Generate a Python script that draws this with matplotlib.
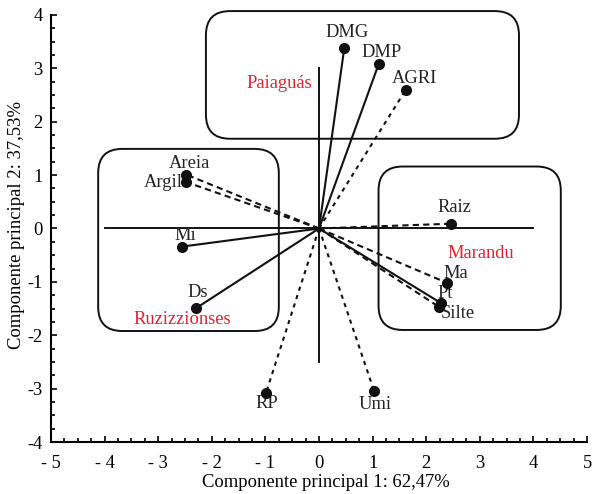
import numpy as np
import matplotlib
matplotlib.use("Agg")
import matplotlib.pyplot as plt
from matplotlib.patches import FancyBboxPatch
from matplotlib.ticker import MultipleLocator

plt.rcParams['font.family'] = ['Liberation Serif', 'DejaVu Serif']

# variable loadings (PC1, PC2)
names = ["DMG", "DMP", "AGRI", "Areia", "Argila", "Raiz", "Ma", "Pt", "Silte", "Mi", "Ds", "RP", "Umi"]
pc1 = [0.47, 1.11, 1.62, -2.48, -2.48, 2.47, 2.39, 2.28, 2.24, -2.56, -2.29, -0.99, 1.03]
pc2 = [3.37, 3.07, 2.60, 1.01, 0.87, 0.09, -1.02, -1.40, -1.47, -0.34, -1.49, -3.08, -3.05]

# cultivar groups
groups = ["Paiaguás", "Ruzizzionses", "Marandu"]
group_x = [-0.74, -2.56, 3.02]
group_y = [2.72, -1.70, -0.47]

xticks = [-5, -4, -3, -2, -1, 0, 1, 2, 3, 4, 5]
xtick_labels = ["- 5", "- 4", "- 3", "- 2", "- 1", "0", "1", "2", "3", "4", "5"]
yticks = [-4, -3, -2, -1, 0, 1, 2, 3, 4]
ytick_labels = ["-4", "-3", "-2", "-1", "0", "1", "2", "3", "4"]

# line style per variable and label offsets (pixels)
dash = (0, (3, 2))
dot = (0, (2, 2.2))
styles = {"DMG": "-", "DMP": "-", "AGRI": dot, "Areia": dash, "Argila": dash,
          "Raiz": dash, "Ma": dash, "Pt": "-", "Silte": dash, "Mi": "-",
          "Ds": "-", "RP": dot, "Umi": dot}
offsets = {"DMG": (3, 16), "DMP": (3, 12), "AGRI": (9, 11), "Areia": (3, 11),
           "Argila": (-19, 0), "Raiz": (3, 16), "Ma": (9, 9), "Pt": (4, 10),
           "Silte": (19, -7), "Mi": (3, 11), "Ds": (1, 16), "RP": (1, -11),
           "Umi": (1, -13)}
# rounded boxes: (x0, y0, x1, y1)
boxes = [(-2.11, 1.68, 3.73, 4.07), (-4.12, -1.92, -0.75, 1.49), (1.11, -1.90, 4.51, 1.16)]

fig = plt.figure(figsize=(5.93, 4.94), dpi=100)
ax = fig.add_axes([0.086, 0.105, 0.904, 0.865])

for x0, y0, x1, y1 in boxes:
    ax.add_patch(FancyBboxPatch((x0, y0), x1 - x0, y1 - y0,
                                boxstyle="round,pad=0,rounding_size=0.45",
                                fill=False, ec="#111111", lw=1.4, clip_on=False))

# central cross
ax.plot([-4, 4], [0, 0], color="#111111", lw=1.4)
ax.plot([0, 0], [-2.5, 3.0], color="#111111", lw=1.4)

for n, x, y in zip(names, pc1, pc2):
    ax.plot([0, x], [0, y], color="#111111", lw=1.5, linestyle=styles[n])
    ax.plot(x, y, "o", color="#111111", ms=7, zorder=5)
    ax.annotate(n, (x, y), xytext=offsets[n], textcoords="offset pixels",
                ha="center", va="center", fontsize=13.3, color="#222222")

for g, x, y in zip(groups, group_x, group_y):
    ax.text(x, y, g, ha="center", va="center", fontsize=13.3, color="#e8202a")

ax.set_xlim(-5, 5)
ax.set_ylim(-4, 4)
ax.spines["top"].set_visible(False)
ax.spines["right"].set_visible(False)
ax.spines["left"].set_linewidth(1.5)
ax.spines["bottom"].set_linewidth(1.5)
ax.set_xticks(xticks)
ax.set_xticklabels(xtick_labels)
ax.set_yticks(yticks)
ax.set_yticklabels(ytick_labels)
ax.xaxis.set_minor_locator(MultipleLocator(0.25))
ax.yaxis.set_minor_locator(MultipleLocator(0.25))
ax.tick_params(which="both", direction="in", width=1.2, labelsize=13.3, pad=6)
ax.tick_params(axis="x", which="both", pad=9)
ax.tick_params(which="major", length=4)
ax.tick_params(which="minor", length=3)

ax.set_xlabel("Componente principal 1: 62,47%", fontsize=13.4)
ax.xaxis.set_label_coords(0.513, -0.075)
ax.set_ylabel("Componente principal 2: 37,53%", fontsize=13.4)
ax.yaxis.set_label_coords(-0.048, 0.507)

fig.savefig("out.png", dpi=100)
